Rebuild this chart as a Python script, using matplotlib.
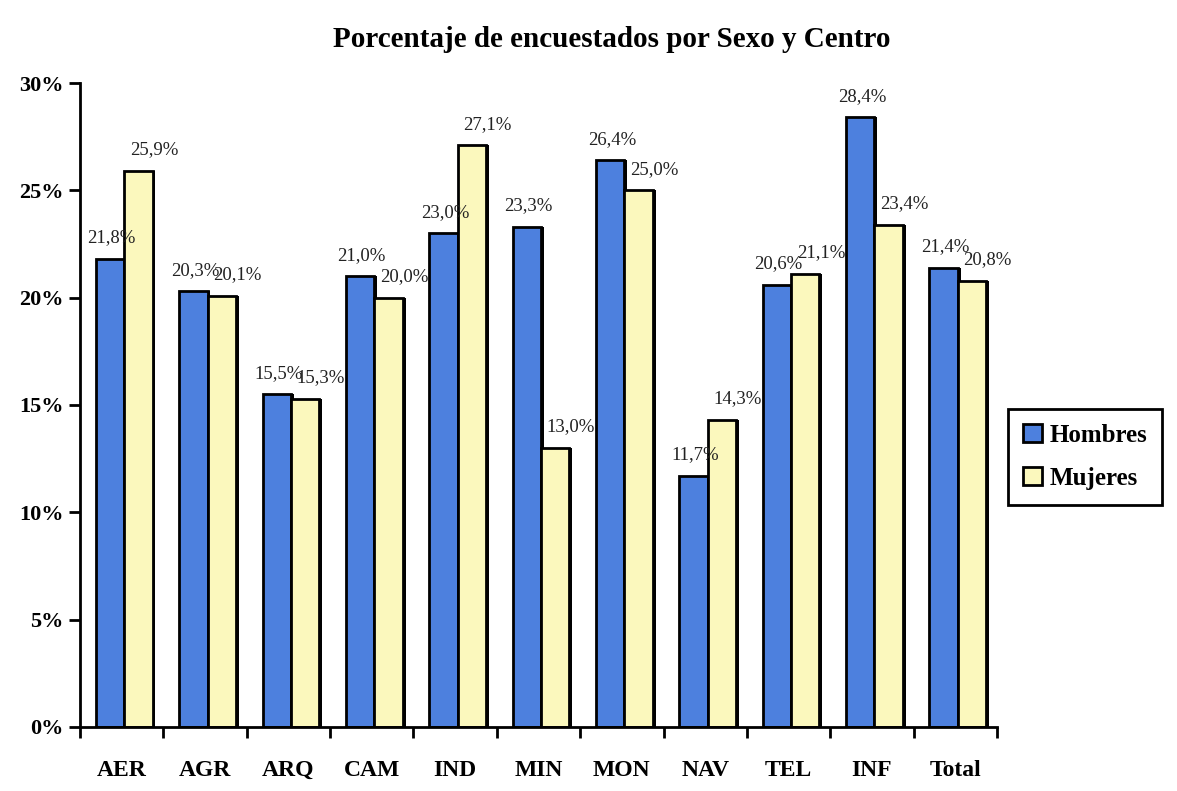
import numpy as np
import matplotlib.pyplot as plt
from matplotlib.ticker import FixedLocator, PercentFormatter

# -- Data --
centros = ["AER", "AGR", "ARQ", "CAM", "IND", "MIN", "MON", "NAV", "TEL", "INF", "Total"]
hombres = [21.8, 20.3, 15.5, 21.0, 23.0, 23.3, 26.4, 11.7, 20.6, 28.4, 21.4]
mujeres = [25.9, 20.1, 15.3, 20.0, 27.1, 13.0, 25.0, 14.3, 21.1, 23.4, 20.8]
y_ticks = [0, 5, 10, 15, 20, 25, 30]

azul = "#4d80de"
amarillo = "#fbf8bd"

plt.rcParams['font.family'] = ['Liberation Serif', 'DejaVu Serif']

fig = plt.figure(figsize=(11.77, 7.91), dpi=100)
ax = fig.add_axes([0.068, 0.081, 0.779, 0.814])

x = np.arange(len(centros))
w = 0.34
xh = x - w / 2 + 0.03
xm = x + w / 2 + 0.03

# black "depth" behind the bars
for xs, vals in ((xh, hombres), (xm, mujeres)):
    ax.bar(xs + 0.035, vals, w, bottom=0, color='black', zorder=1)
ax.bar(xh, hombres, w, color=azul, edgecolor='black', linewidth=2, zorder=2, label='Hombres')
ax.bar(xm, mujeres, w, color=amarillo, edgecolor='black', linewidth=2, zorder=2, label='Mujeres')

# value labels (the Mujeres ones sit a bit to the right, as in the original)
for xs, vals, dx in ((xh, hombres, 0.02), (xm, mujeres, 0.19)):
    for xi, v in zip(xs, vals):
        ax.annotate(f"{v:.1f}%".replace('.', ','), (xi + dx, v), xytext=(0, 9),
                    textcoords='offset points', ha='center', va='bottom', fontsize=13.5,
                    color='#222222')

ax.set_xlim(-0.5, len(centros) - 0.5)
ax.set_ylim(0, 30)
ax.yaxis.set_major_locator(FixedLocator(y_ticks))
ax.yaxis.set_major_formatter(PercentFormatter(decimals=0))
ax.set_xticks(x)
ax.set_xticklabels(centros)
ax.xaxis.set_minor_locator(FixedLocator(np.arange(len(centros) + 1) - 0.5))
ax.tick_params(axis='x', which='major', length=0, pad=24, labelsize=17)
ax.tick_params(axis='x', which='minor', length=8, width=2, direction='out')
ax.tick_params(axis='y', length=8, width=2, direction='out', pad=4, labelsize=16)
for lbl in ax.get_xticklabels() + ax.get_yticklabels():
    lbl.set_fontweight('bold')

for s in ('top', 'right'):
    ax.spines[s].set_visible(False)
for s in ('left', 'bottom'):
    ax.spines[s].set_linewidth(2)

ax.set_title("Porcentaje de encuestados por Sexo y Centro", fontsize=21,
             fontweight='bold', pad=26, x=0.58)

leg = ax.legend(loc='center left', bbox_to_anchor=(1.012, 0.42), fancybox=False,
                edgecolor='black', framealpha=1, prop={'weight': 'bold', 'size': 18},
                handlelength=0.75, handleheight=0.75, handletextpad=0.3, borderpad=0.6,
                labelspacing=0.8, borderaxespad=0)
leg.get_frame().set_linewidth(2)

fig.savefig("out.png", dpi=100, facecolor='white')
